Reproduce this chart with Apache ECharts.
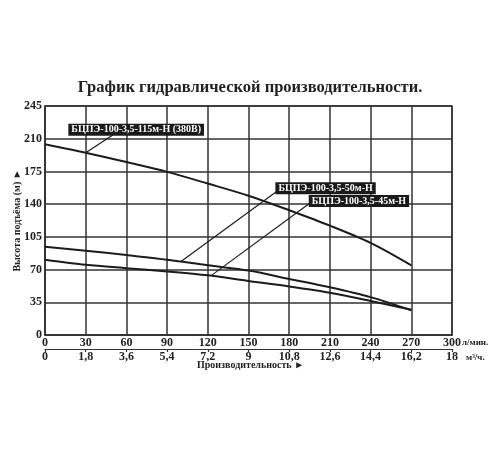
<!DOCTYPE html>
<html>
<head>
<meta charset="utf-8">
<script src="https://cdn.jsdelivr.net/npm/echarts@6/dist/echarts.min.js"></script>
<style>html,body{margin:0;padding:0;background:#fff}#c{width:500px;height:450px}</style>
</head>
<body>
<div id="c"></div>
<script>
var flow = [0, 30, 60, 90, 120, 150, 180, 210, 240, 270];
var h115 = [204, 195, 185, 174.5, 162, 149, 133.5, 117, 98.5, 74.5];
var h50 = [94.5, 90.2, 85.5, 80.6, 74.5, 69, 60, 51, 40.5, 26.5];
var h45 = [80.6, 75.2, 71.5, 68, 63.8, 57.7, 52, 45.3, 36.3, 27];
var names = ['БЦПЭ-100-3,5-115м-Н (380В)', 'БЦПЭ-100-3,5-50м-Н', 'БЦПЭ-100-3,5-45м-Н'];
var yTicks = [0, 35, 70, 105, 140, 175, 210, 245];
var xTicks = [0, 30, 60, 90, 120, 150, 180, 210, 240, 270, 300];
var m3Ticks = ['0', '1,8', '3,6', '5,4', '7,2', '9', '10,8', '12,6', '14,4', '16,2', '18'];
var title = 'График гидравлической производительности.';
var yName = 'Высота подъёма (м) ►';
var xName = 'Производительность ►';
var unitL = 'л/мин.';
var unitM = 'м³/ч.';

var FONT = '"Liberation Serif", "Times New Roman", serif';
var INK = '#1c1c1c';

function pairs(ys) { return flow.map(function (x, i) { return [x, ys[i]]; }); }

function mk(name, ys, anchor, lineFrom, lineTo) {
  return {
    type: 'line', name: name, data: pairs(ys), smooth: 0.3, showSymbol: false,
    lineStyle: { color: INK, width: 2 }, animation: false, silent: true,
    markLine: {
      silent: true, symbol: ['none', 'none'], animation: false,
      lineStyle: { color: INK, width: 1.2, type: 'solid' }, label: { show: false },
      data: [[{ coord: lineFrom }, { coord: lineTo }]]
    },
    markPoint: {
      silent: true, animation: false, symbol: 'rect', symbolSize: 0,
      label: {
        show: true, position: 'inside', formatter: name,
        color: '#fff', backgroundColor: '#1a1a1a', padding: [1, 3, 1, 3],
        fontFamily: FONT, fontWeight: 'bold', fontSize: 10
      },
      data: [{ coord: anchor }]
    }
  };
}

var chart = echarts.init(document.getElementById('c'));
chart.setOption({
  backgroundColor: '#fff',
  animation: false,
  title: {
    text: title, left: 'center', top: 74,
    textStyle: { fontFamily: FONT, fontWeight: 'bold', fontSize: 16.5, color: '#222' }
  },
  grid: { left: 45, right: 48, top: 106, bottom: 115, outerBoundsMode: 'none', containLabel: false, show: true, borderColor: '#333', borderWidth: 1.5 },
  xAxis: [{
    type: 'value', min: 0, max: 300, interval: 30, position: 'bottom',
    axisLine: { show: true, lineStyle: { color: '#333', width: 1.5 } },
    axisTick: { show: false },
    splitLine: { show: true, lineStyle: { color: '#333', width: 1.5 } },
    axisLabel: {
      margin: 2, fontFamily: FONT, fontWeight: 'bold', fontSize: 12, color: '#222',
      formatter: function (v) { return xTicks.indexOf(v) >= 0 ? String(v) : ''; }
    }
  }, {
    type: 'value', min: 0, max: 300, interval: 30, position: 'bottom', offset: 14,
    axisLine: { show: true, onZero: false, lineStyle: { color: '#333', width: 1.2 } },
    axisTick: { show: true, length: 3, inside: false, lineStyle: { color: '#333', width: 1.2 } },
    splitLine: { show: false },
    axisLabel: {
      margin: 2, fontFamily: FONT, fontWeight: 'bold', fontSize: 12, color: '#222',
      formatter: function (v) { var i = Math.round(v / 30); return m3Ticks[i] || ''; }
    }
  }],
  yAxis: {
    type: 'value', min: 0, max: 245, interval: 35,
    name: yName, nameLocation: 'middle', nameRotate: 90, nameGap: 23, nameMoveOverlap: false,
    nameTextStyle: { fontFamily: FONT, fontWeight: 'bold', fontSize: 10, color: '#222' },
    axisLine: { show: true, lineStyle: { color: '#333', width: 1.5 } },
    axisTick: { show: false },
    splitLine: { show: true, lineStyle: { color: '#333', width: 1.5 } },
    axisLabel: {
      margin: 3, fontFamily: FONT, fontWeight: 'bold', fontSize: 12, color: '#222',
      formatter: function (v) { return yTicks.indexOf(v) >= 0 ? String(v) : ''; }
    }
  },
  graphic: [
    { type: 'text', left: 462, top: 338, style: { text: unitL, font: 'bold 9px ' + FONT, fill: '#222' } },
    { type: 'text', left: 466, top: 353, style: { text: unitM, font: 'bold 9px ' + FONT, fill: '#222' } },
    { type: 'text', left: 197, top: 360, style: { text: xName, font: 'bold 10px ' + FONT, fill: '#222' } }
  ],
  series: [
    mk(names[0], h115, [67.2, 219.5], [30, 195], [50, 214]),
    mk(names[1], h50, [206.8, 157.1], [100.5, 78.8], [171, 153.7]),
    mk(names[2], h45, [231.4, 143.3], [122.7, 63.8], [194.6, 140.5])
  ]
});
</script>
</body>
</html>
